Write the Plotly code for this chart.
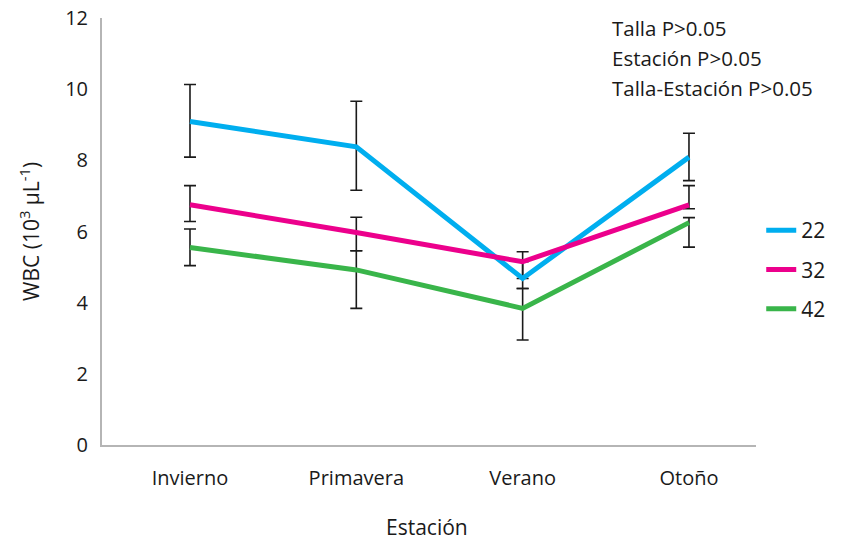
import plotly.graph_objects as go

seasons = ["Invierno", "Primavera", "Verano", "Otoño"]
sizes = ["22", "32", "42"]

wbc_22 = [9.09, 8.38, 4.68, 8.09]
wbc_32 = [6.75, 5.97, 5.15, 6.75]
wbc_42 = [5.55, 4.92, 3.84, 6.25]

err_plus_22 = [1.04, 1.28, 0.47, 0.67]
err_minus_22 = [1.00, 1.22, 0.28, 0.66]
err_plus_32 = [0.54, 0.43, 0.28, 0.54]
err_minus_32 = [0.47, 0.51, 0.47, 0.11]
err_plus_42 = [0.52, 0.54, 0.56, 0.14]
err_minus_42 = [0.51, 1.08, 0.89, 0.69]

y_ticks = [0, 2, 4, 6, 8, 10, 12]
stats_lines = ["Talla P>0.05", "Estación P>0.05", "Talla-Estación P>0.05"]

colors = ["#00AEEF", "#EC008C", "#39B54A"]
FONT = "Open Sans"
TXT = "#1a1a1a"

series = [
    (wbc_22, err_plus_22, err_minus_22),
    (wbc_32, err_plus_32, err_minus_32),
    (wbc_42, err_plus_42, err_minus_42),
]

fig = go.Figure()

# error bars first (drawn under lines)
for vals, ep, em in series:
    fig.add_trace(go.Scatter(
        x=seasons, y=vals, mode="markers",
        marker=dict(size=1, color="rgba(0,0,0,0)"),
        error_y=dict(type="data", symmetric=False, array=ep, arrayminus=em,
                     color="#1a1a1a", thickness=1.6, width=6),
        showlegend=False, hoverinfo="skip",
    ))

for i, (vals, ep, em) in enumerate(series):
    fig.add_trace(go.Scatter(
        x=seasons, y=vals, mode="lines", name=sizes[i],
        line=dict(color=colors[i], width=5),
        legendgroup=sizes[i],
    ))

for k, txt in enumerate(stats_lines):
    fig.add_annotation(
        text=txt, xref="paper", yref="paper",
        x=0.776, y=[0.9766, 0.9063, 0.836][k],
        xanchor="left", yanchor="middle", showarrow=False,
        font=dict(family=FONT, size=20.5, color=TXT),
    )

# y-axis title
fig.add_annotation(
    text="WBC (10<sup>3</sup> µL<sup>-1</sup>)", xref="paper", yref="paper",
    x=-0.111, y=0.5, xanchor="center", yanchor="middle",
    textangle=-90, showarrow=False,
    font=dict(family=FONT, size=21, color=TXT),
)

# x-axis title
fig.add_annotation(
    text="Estación", xref="paper", yref="paper",
    x=0.497, y=-0.192, xanchor="center", yanchor="middle",
    showarrow=False,
    font=dict(family=FONT, size=21, color=TXT),
)

fig.update_layout(
    width=842, height=544,
    margin=dict(l=102, r=86, t=18, b=99, autoexpand=False),
    paper_bgcolor="white", plot_bgcolor="white",
    font=dict(family=FONT, size=21, color=TXT),
    legend=dict(
        x=1.008, xanchor="left", y=0.411, yanchor="middle",
        font=dict(family=FONT, size=21, color=TXT),
        tracegroupgap=9, itemwidth=30,
        bgcolor="rgba(0,0,0,0)",
    ),
    xaxis=dict(
        type="category", range=[-0.529, 3.403], automargin=False,
        showline=True, linecolor="#B5B5B5", linewidth=2,
        showgrid=False, zeroline=False,
        ticks="outside", ticklen=14, tickcolor="rgba(0,0,0,0)",
        tickfont=dict(family=FONT, size=20, color=TXT),
    ),
    yaxis=dict(
        range=[0, 12], tickvals=y_ticks, automargin=False,
        showline=True, linecolor="#B5B5B5", linewidth=2,
        showgrid=False, zeroline=False,
        ticks="outside", ticklen=8, tickcolor="rgba(0,0,0,0)",
        tickfont=dict(family=FONT, size=20, color=TXT),
    ),
)

fig.write_html("out.html")
